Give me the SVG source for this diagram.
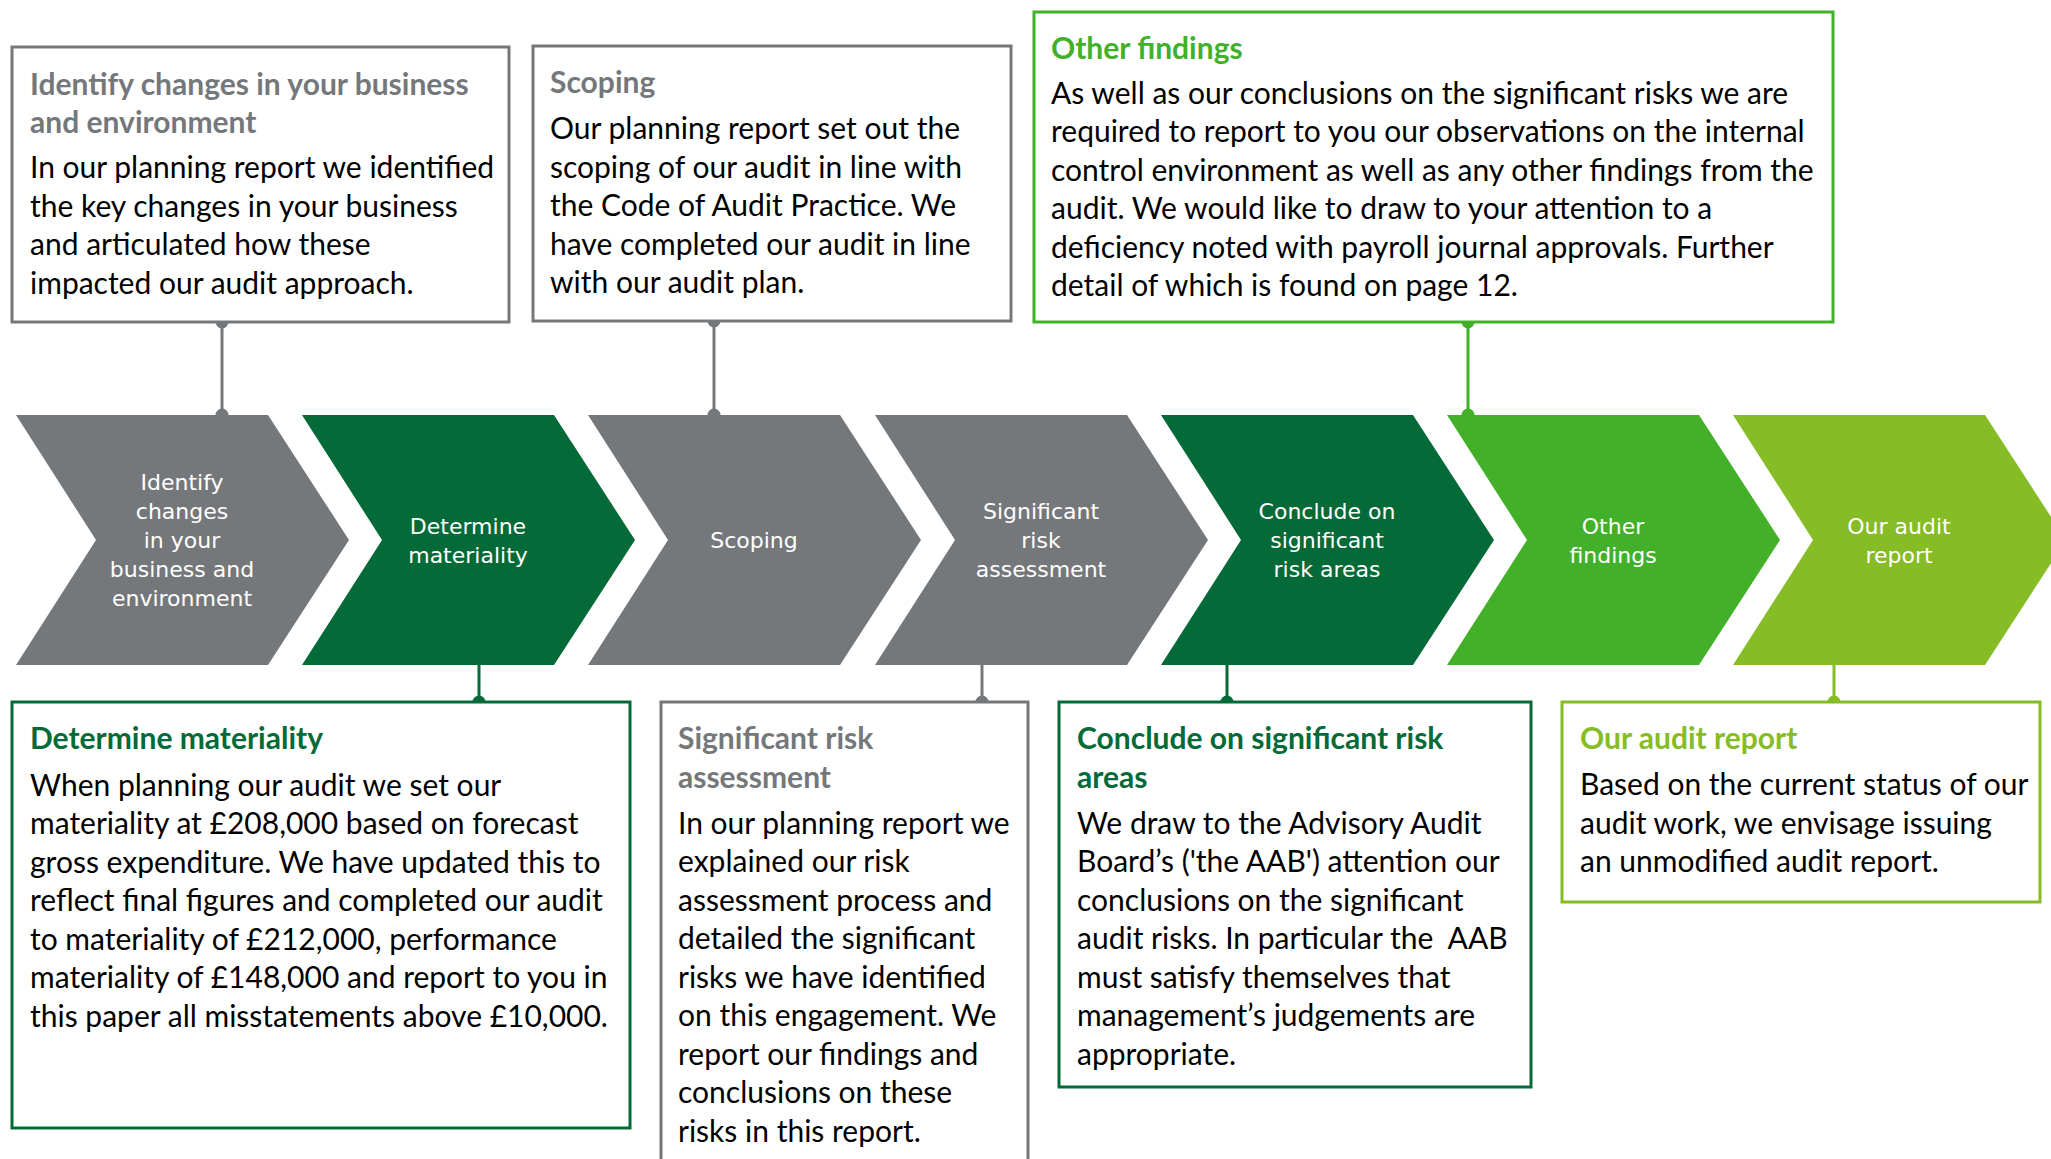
<svg xmlns="http://www.w3.org/2000/svg" width="2051" height="1159" viewBox="0 0 2051 1159">
<style>
.chev text{font-family:"DejaVu Sans",Verdana,sans-serif;font-size:22px;fill:#fff;text-anchor:middle}
.box{fill:#fff;stroke-width:3}
.t{font-family:Lato,"Open Sans",sans-serif;font-weight:bold;font-size:30px}
.b{font-family:Lato,"Open Sans",sans-serif;font-size:30px;fill:#000}
.grey{stroke:#75787B}.dg{stroke:#046A38}.g{stroke:#43B02A}.lg{stroke:#86BC25}
.fgrey{fill:#75787B}.fdg{fill:#046A38}.fg{fill:#43B02A}.flg{fill:#86BC25}
#connectors line{stroke-width:3}
</style>
<rect width="2051" height="1159" fill="#fff"/>
<g id="chevrons" class="chev">
<g id="chev1"><path class="fgrey" d="M16,415H268L349,540L268,665H16L96,540Z"/>
<text><tspan x="182" y="490">Identify</tspan><tspan x="182" y="519">changes</tspan><tspan x="182" y="548">in your</tspan><tspan x="182" y="577">business and</tspan><tspan x="182" y="606">environment</tspan></text></g>
<g id="chev2"><path class="fdg" d="M302,415H554L635,540L554,665H302L382,540Z"/>
<text><tspan x="468" y="534">Determine</tspan><tspan x="468" y="563">materiality</tspan></text></g>
<g id="chev3"><path class="fgrey" d="M588,415H840L921,540L840,665H588L668,540Z"/>
<text><tspan x="754" y="548">Scoping</tspan></text></g>
<g id="chev4"><path class="fgrey" d="M875,415H1127L1208,540L1127,665H875L955,540Z"/>
<text><tspan x="1041" y="519">Significant</tspan><tspan x="1041" y="548">risk</tspan><tspan x="1041" y="577">assessment</tspan></text></g>
<g id="chev5"><path class="fdg" d="M1161,415H1413L1494,540L1413,665H1161L1241,540Z"/>
<text><tspan x="1327" y="519">Conclude on</tspan><tspan x="1327" y="548">significant</tspan><tspan x="1327" y="577">risk areas</tspan></text></g>
<g id="chev6"><path class="fg" d="M1447,415H1699L1780,540L1699,665H1447L1527,540Z"/>
<text><tspan x="1613" y="534">Other</tspan><tspan x="1613" y="563">findings</tspan></text></g>
<g id="chev7"><path class="flg" d="M1733,415H1985L2066,540L1985,665H1733L1813,540Z"/>
<text><tspan x="1899" y="534">Our audit</tspan><tspan x="1899" y="563">report</tspan></text></g>
</g>
<g id="connectors">
<line class="grey" x1="222" y1="322" x2="222" y2="415"/><circle class="fgrey" cx="222" cy="322" r="6.5"/><circle class="fgrey" cx="222" cy="415" r="6.5"/>
<line class="grey" x1="714" y1="321" x2="714" y2="415"/><circle class="fgrey" cx="714" cy="321" r="6.5"/><circle class="fgrey" cx="714" cy="415" r="6.5"/>
<line class="g" x1="1468" y1="322" x2="1468" y2="415"/><circle class="fg" cx="1468" cy="322" r="6.5"/><circle class="fg" cx="1468" cy="415" r="6.5"/>
<line class="dg" x1="479" y1="665" x2="479" y2="702"/><circle class="fdg" cx="479" cy="702" r="6.5"/>
<line class="grey" x1="982" y1="665" x2="982" y2="702"/><circle class="fgrey" cx="982" cy="702" r="6.5"/>
<line class="dg" x1="1227" y1="665" x2="1227" y2="702"/><circle class="fdg" cx="1227" cy="702" r="6.5"/>
<line class="lg" x1="1834" y1="665" x2="1834" y2="702"/><circle class="flg" cx="1834" cy="702" r="6.5"/>
</g>
<g id="box-identify">
<rect class="box grey" x="12" y="47" width="497" height="275"/>
<text class="t fgrey"><tspan x="30" y="94.5">Identify changes in your business</tspan><tspan x="30" y="133">and environment</tspan></text>
<text class="b"><tspan x="30" y="178">In our planning report we identified</tspan><tspan x="30" y="216.5">the key changes in your business</tspan><tspan x="30" y="255">and articulated how these</tspan><tspan x="30" y="293.5">impacted our audit approach.</tspan></text>
</g>
<g id="box-scoping">
<rect class="box grey" x="533" y="46" width="478" height="275"/>
<text class="t fgrey"><tspan x="550" y="93">Scoping</tspan></text>
<text class="b"><tspan x="550" y="139">Our planning report set out the</tspan><tspan x="550" y="177.5">scoping of our audit in line with</tspan><tspan x="550" y="216">the Code of Audit Practice. We</tspan><tspan x="550" y="254.5">have completed our audit in line</tspan><tspan x="550" y="293">with our audit plan.</tspan></text>
</g>
<g id="box-other">
<rect class="box g" x="1034" y="12" width="799" height="310"/>
<text class="t fg"><tspan x="1051" y="58.5">Other findings</tspan></text>
<text class="b"><tspan x="1051" y="103.5">As well as our conclusions on the significant risks we are</tspan><tspan x="1051" y="142">required to report to you our observations on the internal</tspan><tspan x="1051" y="180.5">control environment as well as any other findings from the</tspan><tspan x="1051" y="219">audit. We would like to draw to your attention to a</tspan><tspan x="1051" y="257.5">deficiency noted with payroll journal approvals. Further</tspan><tspan x="1051" y="296">detail of which is found on page 12.</tspan></text>
</g>
<g id="box-materiality">
<rect class="box dg" x="12" y="702" width="618" height="426"/>
<text class="t fdg"><tspan x="30" y="749">Determine materiality</tspan></text>
<text class="b"><tspan x="30" y="795.5">When planning our audit we set our</tspan><tspan x="30" y="834">materiality at £208,000 based on forecast</tspan><tspan x="30" y="872.5">gross expenditure. We have updated this to</tspan><tspan x="30" y="911">reflect final figures and completed our audit</tspan><tspan x="30" y="949.5">to materiality of £212,000, performance</tspan><tspan x="30" y="988">materiality of £148,000 and report to you in</tspan><tspan x="30" y="1026.5">this paper all misstatements above £10,000.</tspan></text>
</g>
<g id="box-risk">
<rect class="box grey" x="661" y="702" width="367" height="480"/>
<text class="t fgrey"><tspan x="678" y="749">Significant risk</tspan><tspan x="678" y="787.5">assessment</tspan></text>
<text class="b"><tspan x="678" y="833.5">In our planning report we</tspan><tspan x="678" y="872">explained our risk</tspan><tspan x="678" y="910.5">assessment process and</tspan><tspan x="678" y="949">detailed the significant</tspan><tspan x="678" y="987.5">risks we have identified</tspan><tspan x="678" y="1026">on this engagement. We</tspan><tspan x="678" y="1064.5">report our findings and</tspan><tspan x="678" y="1103">conclusions on these</tspan><tspan x="678" y="1141.5">risks in this report.</tspan></text>
</g>
<g id="box-conclude">
<rect class="box dg" x="1059" y="702" width="472" height="385"/>
<text class="t fdg"><tspan x="1077" y="749">Conclude on significant risk</tspan><tspan x="1077" y="787.5">areas</tspan></text>
<text class="b"><tspan x="1077" y="833.5">We draw to the Advisory Audit</tspan><tspan x="1077" y="872">Board’s ('the AAB') attention our</tspan><tspan x="1077" y="910.5">conclusions on the significant</tspan><tspan x="1077" y="949">audit risks. In particular the&#160; AAB</tspan><tspan x="1077" y="987.5">must satisfy themselves that</tspan><tspan x="1077" y="1026">management’s judgements are</tspan><tspan x="1077" y="1064.5">appropriate.</tspan></text>
</g>
<g id="box-report">
<rect class="box lg" x="1562" y="702" width="478" height="200"/>
<text class="t flg"><tspan x="1580" y="749">Our audit report</tspan></text>
<text class="b"><tspan x="1580" y="795">Based on the current status of our</tspan><tspan x="1580" y="833.5">audit work, we envisage issuing</tspan><tspan x="1580" y="872">an unmodified audit report.</tspan></text>
</g>
</svg>
